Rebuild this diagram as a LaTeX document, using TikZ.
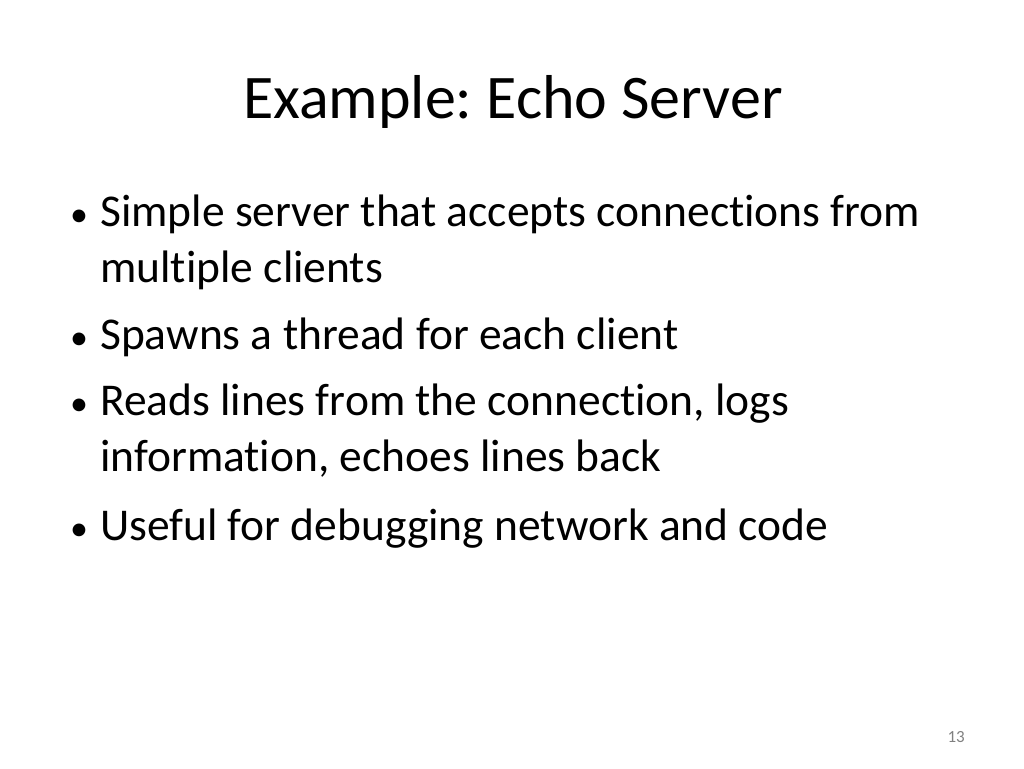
\documentclass[tikz,border=0pt]{standalone}
\usepackage{fontspec}
\setmainfont{Carlito}[Ligatures={NoCommon}]
\frenchspacing
\usetikzlibrary{positioning}
\tikzset{
  bodytext/.style={anchor=base west, inner sep=0pt, font=\fontsize{45.5}{52}\selectfont},
  bulletmark/.style={anchor=base west, inner sep=0pt, font=\fontsize{36}{40}\selectfont}
}
\begin{document}
\begin{tikzpicture}[x=1pt, y=-1pt]
  \useasboundingbox (0,0) rectangle (1024,768);
  \node[anchor=base, inner sep=0pt, font=\fontsize{62}{70}\selectfont] (title) at (513,118) {Example: Echo Server};

  \node[bulletmark] (b1) at (70,226) {\textbullet};
  \node[bodytext] (l1) at (100,226) {Simple server that accepts connections from};
  \node[bodytext] (l1b) at (100,282) {multiple clients};
  \node[bulletmark] (b2) at (70,349) {\textbullet};
  \node[bodytext] (l2) at (100,349) {Spawns a thread for each client};
  \node[bulletmark] (b3) at (70,415) {\textbullet};
  \node[bodytext] (l3) at (100,415) {Reads lines from the connection, logs};
  \node[bodytext] (l3b) at (100,471) {information, echoes lines back};
  \node[bulletmark] (b4) at (70,540) {\textbullet};
  \node[bodytext] (l4) at (100,540) {Useful for debugging network and code};

  \node[anchor=base east, inner sep=0pt, text=gray, font=\fontsize{17}{20}\selectfont] (num) at (965,742) {13};
\end{tikzpicture}
\end{document}
